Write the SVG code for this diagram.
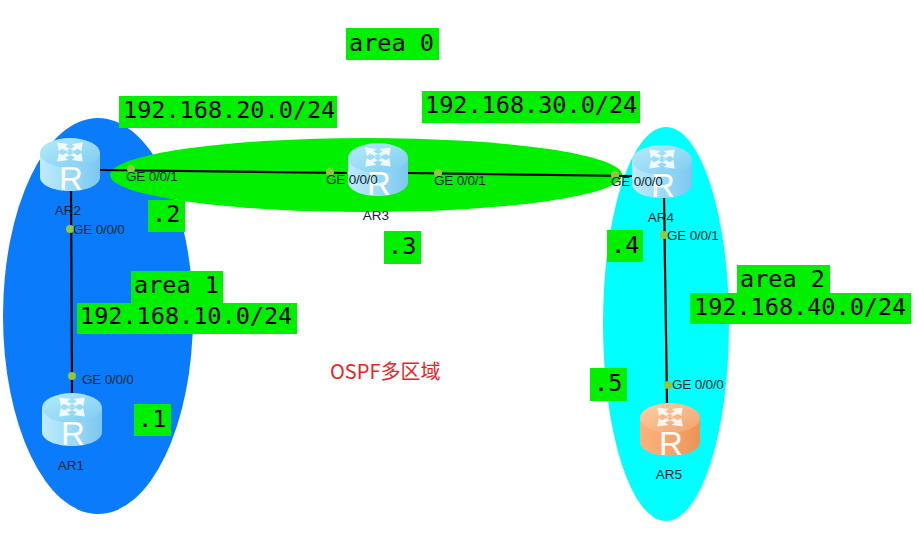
<svg xmlns="http://www.w3.org/2000/svg" width="918" height="546" viewBox="0 0 918 546">
<style>
.tag{fill:#00f000}
.mono{font-family:"DejaVu Sans Mono","Liberation Mono",monospace;font-size:23.5px;fill:#000}
.port{font-family:"Liberation Sans",Arial,sans-serif;font-size:13.500px;fill:#0d2b2b;letter-spacing:-.2px}
.name{font-family:"Liberation Sans",Arial,sans-serif;font-size:13.500px;fill:#123;text-anchor:middle}
.link{stroke:#000;stroke-width:2.200;fill:none}
.dot{fill:#93c63c}
.rt{fill:#fff;font-family:"Liberation Sans",Arial,sans-serif;font-size:33px;text-anchor:middle}
.arr{fill:#fff;opacity:.85}
</style>
<defs>
<linearGradient id="blue" x1="0" x2="1" y1="0" y2="0"><stop offset="0" stop-color="#bfeafc"/><stop offset=".5" stop-color="#9bdcf9"/><stop offset="1" stop-color="#7cc6f0"/></linearGradient>
<linearGradient id="blueTop" x1="0" x2="1" y1="0" y2="1"><stop offset="0" stop-color="#b5ecfb"/><stop offset="1" stop-color="#7ccbf2"/></linearGradient>
<linearGradient id="org" x1="0" x2="1" y1="0" y2="0"><stop offset="0" stop-color="#f9b37c"/><stop offset=".5" stop-color="#f6a56c"/><stop offset="1" stop-color="#ec9355"/></linearGradient>
<linearGradient id="orgTop" x1="0" x2="1" y1="0" y2="1"><stop offset="0" stop-color="#fdd0a8"/><stop offset="1" stop-color="#f4a168"/></linearGradient>
<g id="arrows">
<path class="arr" transform="translate(30 14) scale(1.600) translate(-30 -14)" d="M22 8l7 1-2 1.500 5 2.500-2 1.500-5-2.500-2 1.500zM38 8l-7 1 2 1.500-5 2.500 2 1.500 5-2.500 2 1.500zM22 20l7-1-2-1.500 5-2.500-2-1.500-5 2.500-2-1.500zM38 20l-7-1 2-1.500-5-2.500 2-1.500 5 2.500 2-1.500z"/>
</g>
<g id="rBlue">
<path d="M0 15V39C0 47 13 53 30 53S60 47 60 39V15Z" fill="url(#blue)"/>
<ellipse cx="30" cy="15" rx="30" ry="15" fill="url(#blueTop)"/>
<use href="#arrows"/>
<text class="rt" x="31" y="52">R</text>
</g>
<g id="rOrg">
<path d="M0 15V39C0 47 13 53 30 53S60 47 60 39V15Z" fill="url(#org)"/>
<ellipse cx="30" cy="15" rx="30" ry="15" fill="url(#orgTop)"/>
<use href="#arrows"/>
<text class="rt" x="31" y="52">R</text>
</g>
</defs>
<rect width="918" height="546" fill="#fff"/>
<g id="areas">
<ellipse cx="98" cy="316" rx="95" ry="198" fill="#0a7cfb"/>
<ellipse cx="666" cy="324" rx="63" ry="197" fill="#00ffff"/>
<ellipse cx="366" cy="175" rx="256" ry="37" fill="#00f000"/>
</g>
<g id="connectors">
<path class="link" d="M100 170L347 173"/>
<path class="link" d="M408 173L632 176"/>
<path class="link" d="M71 191L72 393"/>
<path class="link" d="M664 197L667 403"/>
</g>
<g id="AR1"><use href="#rBlue" x="42" y="393"/><text class="name" x="71" y="470">AR1</text></g>
<g id="AR2"><use href="#rBlue" x="40" y="138"/><text class="name" x="68" y="215">AR2</text></g>
<g id="AR3"><use href="#rBlue" x="348" y="143"/><text class="name" x="376" y="220">AR3</text></g>
<g id="AR4"><use href="#rBlue" x="632" y="145"/><text class="name" x="661" y="222">AR4</text></g>
<g id="AR5"><use href="#rOrg" x="640" y="403"/><text class="name" x="669" y="479">AR5</text></g>
<g id="ports">
<circle class="dot" cx="131" cy="169" r="4"/><text class="port" x="126" y="181">GE 0/0/1</text>
<circle class="dot" cx="330" cy="172" r="4"/><text class="port" x="326" y="184">GE 0/0/0</text>
<circle class="dot" cx="438" cy="173" r="4"/><text class="port" x="434" y="185">GE 0/0/1</text>
<circle class="dot" cx="615" cy="175" r="4"/><text class="port" x="611" y="186">GE 0/0/0</text>
<circle class="dot" cx="70" cy="229" r="4"/><text class="port" x="73" y="234">GE 0/0/0</text>
<circle class="dot" cx="72" cy="376" r="4"/><text class="port" x="82" y="384">GE 0/0/0</text>
<circle class="dot" cx="664" cy="235" r="4"/><text class="port" x="667" y="240">GE 0/0/1</text>
<circle class="dot" cx="668" cy="385" r="4"/><text class="port" x="672" y="389">GE 0/0/0</text>
</g>
<g id="labels">
<rect class="tag" x="346" y="28" width="93" height="32"/><text class="mono" x="349" y="51">area 0</text>
<rect class="tag" x="119" y="96" width="218" height="32"/><text class="mono" x="123" y="118">192.168.20.0/24</text>
<rect class="tag" x="422" y="91" width="218" height="32"/><text class="mono" x="425" y="113">192.168.30.0/24</text>
<rect class="tag" x="131" y="271" width="92" height="32"/><text class="mono" x="134" y="293">area 1</text>
<rect class="tag" x="77" y="303" width="220" height="31"/><text class="mono" x="80" y="324">192.168.10.0/24</text>
<rect class="tag" x="737" y="265" width="93" height="28"/><text class="mono" x="740" y="287">area 2</text>
<rect class="tag" x="690" y="293" width="221" height="31"/><text class="mono" x="694" y="315">192.168.40.0/24</text>
<rect class="tag" x="148" y="200" width="37" height="32"/><text class="mono" x="152" y="222">.2</text>
<rect class="tag" x="134" y="404" width="37" height="32"/><text class="mono" x="138" y="427">.1</text>
<rect class="tag" x="384" y="231" width="37" height="33"/><text class="mono" x="388" y="254">.3</text>
<rect class="tag" x="607" y="230" width="36" height="32"/><text class="mono" x="611" y="253">.4</text>
<rect class="tag" x="590" y="368" width="37" height="33"/><text class="mono" x="594" y="391">.5</text>
<text x="330" y="379" font-family="'Noto Sans CJK SC','Noto Sans',sans-serif" font-size="20" fill="#ee2222">OSPF多区域</text>
</g>
</svg>
